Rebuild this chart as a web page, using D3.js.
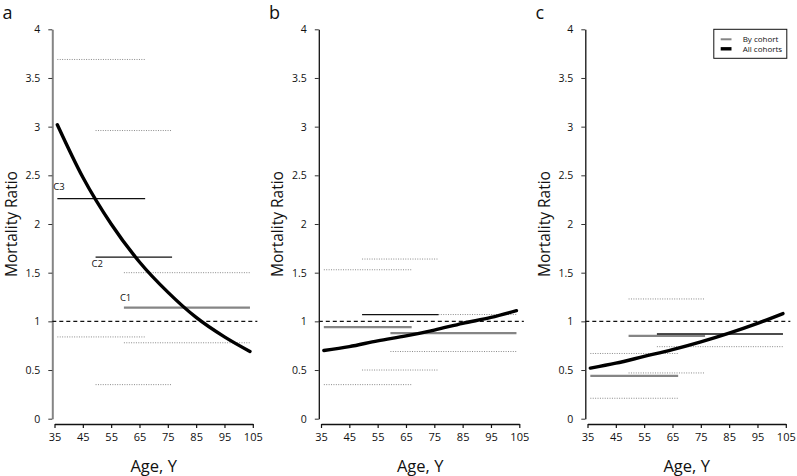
<!DOCTYPE html>
<html>
<head>
<meta charset="utf-8">
<script src="https://cdn.jsdelivr.net/npm/d3@7"></script>
<style>
  html, body { margin: 0; padding: 0; background: #fff; }
  svg { display: block; }
  text { font-family: "Open Sans", "Noto Sans", sans-serif; }
</style>
</head>
<body>
<svg id="chart" width="797" height="476"></svg>
<script>
// ---------------- data ----------------
const panelLabels = ["a", "b", "c"];
const xTicks = [35, 45, 55, 65, 75, 85, 95, 105];
const yTicks = [0, 0.5, 1, 1.5, 2, 2.5, 3, 3.5, 4];
const yTickLabels = ["0", "0.5", "1", "1.5", "2", "2.5", "3", "3.5", "4"];

// cohorts (age spans)
const cohorts = ["C1", "C2", "C3"];
const cohortStart = [59.5, 49.5, 36];
const cohortEnd = [104, 76.5, 67];

// per-cohort estimates and bounds, per panel
const estA = [1.14, 1.66, 2.26];
const loA  = [0.78, 0.35, 0.84];
const hiA  = [1.50, 2.96, 3.69];

const estB = [0.88, 1.07, 0.94];
const loB  = [0.69, 0.50, 0.35];
const hiB  = [1.07, 1.64, 1.53];

const estC = [0.87, 0.85, 0.44];
const loC  = [0.74, 0.47, 0.21];
const hiC  = [null, 1.23, 0.67];

// all-cohorts fitted curve (read at these ages)
const curveAges = [36, 45, 55, 65, 75, 85, 95, 104];
const curveA = [3.02, 2.48, 2.00, 1.61, 1.30, 1.04, 0.84, 0.69];
const curveB = [0.70, 0.74, 0.80, 0.85, 0.91, 0.98, 1.04, 1.11];
const curveC = [0.52, 0.57, 0.64, 0.71, 0.79, 0.88, 0.98, 1.08];

const referenceValue = 1;
const legendLabels = ["By cohort", "All cohorts"];

// ---------------- styling (separate from data) ----------------
const darkEstimate = [
  [false, true, true],
  [false, true, false],
  [true, false, false]
];
const GRAY = "#858585";
const DOT = "#8a8a8a";

const panels = [
  { label: panelLabels[0], est: estA, lo: loA, hi: hiA, curve: curveA, cohortText: true, grayAxis: true },
  { label: panelLabels[1], est: estB, lo: loB, hi: hiB, curve: curveB, cohortText: false, grayAxis: false },
  { label: panelLabels[2], est: estC, lo: loC, hi: hiC, curve: curveC, cohortText: false, grayAxis: false }
];

const svg = d3.select("#chart");
const panelW = 266.5;
const y = d3.scaleLinear().domain([0, 4]).range([418.7, 29.3]);

panels.forEach((p, i) => {
  const off = i * panelW;
  const x = d3.scaleLinear().domain([35, 105]).range([off + 54.5, off + 252.8]);
  const g = svg.append("g");
  const axisX = off + 52.3;

  // panel letter
  g.append("text").attr("x", off + 2.5).attr("y", 19)
    .attr("font-size", 18).attr("fill", "#111").text(p.label);

  // y axis
  const yAxis = d3.axisLeft(y).tickValues(yTicks)
    .tickFormat((d, k) => yTickLabels[k]).tickSize(4).tickSizeOuter(0).tickPadding(8);
  const ya = g.append("g").attr("transform", `translate(${axisX},0)`).call(yAxis);
  ya.select(".domain").attr("stroke", p.grayAxis ? GRAY : "#111").attr("stroke-width", p.grayAxis ? 2 : 1.3);
  ya.selectAll(".tick line").attr("stroke", "#333");
  ya.selectAll(".tick text").attr("font-size", 10.5).attr("fill", "#111")
    .attr("font-family", "'Open Sans', sans-serif");

  // x axis
  const xAxis = d3.axisBottom(x).tickValues(xTicks).tickSize(4).tickSizeOuter(0).tickPadding(5);
  const xa = g.append("g").attr("transform", `translate(0,424)`).call(xAxis);
  xa.select(".domain").attr("stroke", "#111").attr("stroke-width", 1.3);
  xa.selectAll(".tick line").attr("stroke", "#111").attr("stroke-width", 1.2);
  xa.selectAll(".tick text").attr("font-size", 11).attr("fill", "#111")
    .attr("font-family", "'Open Sans', sans-serif");

  // axis titles
  g.append("text")
    .attr("transform", `translate(${off + 16.5},224) rotate(-90)`)
    .attr("text-anchor", "middle").attr("font-size", 15.5).attr("fill", "#111")
    .text("Mortality Ratio");
  g.append("text")
    .attr("x", (x(35) + x(105)) / 2).attr("y", 472)
    .attr("text-anchor", "middle").attr("font-size", 16.5).attr("fill", "#111")
    .text("Age, Y");

  // dotted bounds
  cohorts.forEach((c, k) => {
    [p.lo[k], p.hi[k]].forEach(v => {
      if (v == null) return;
      g.append("line")
        .attr("x1", x(cohortStart[k])).attr("x2", x(cohortEnd[k]))
        .attr("y1", y(v)).attr("y2", y(v))
        .attr("stroke", DOT).attr("stroke-width", 1)
        .attr("stroke-dasharray", "1,1.4");
    });
  });

  // reference dashed line
  g.append("line")
    .attr("x1", axisX).attr("x2", x(106.6))
    .attr("y1", y(referenceValue)).attr("y2", y(referenceValue))
    .attr("stroke", "#111").attr("stroke-width", 1.2)
    .attr("stroke-dasharray", "4,3");

  // cohort estimates (gray first, then dark)
  const order = [0, 1, 2].sort((a, b) => (darkEstimate[i][a] ? 1 : 0) - (darkEstimate[i][b] ? 1 : 0));
  order.forEach(k => {
    const dark = darkEstimate[i][k];
    g.append("line")
      .attr("x1", x(cohortStart[k])).attr("x2", x(cohortEnd[k]))
      .attr("y1", y(p.est[k])).attr("y2", y(p.est[k]))
      .attr("stroke", dark ? "#111" : GRAY)
      .attr("stroke-width", dark ? 1.3 : 2.2);
  });

  // cohort labels (panel a only)
  if (p.cohortText) {
    const dy = [-7, 10, -9];
    cohorts.forEach((c, k) => {
      g.append("text")
        .attr("x", x(cohortStart[k]) - 4)
        .attr("y", y(p.est[k]) + dy[k])
        .attr("font-size", 9.5).attr("fill", "#111")
        .text(c);
    });
  }

  // all-cohorts curve
  const line = d3.line()
    .x((d, k) => x(curveAges[k]))
    .y(d => y(d))
    .curve(d3.curveMonotoneX);
  g.append("path").datum(p.curve)
    .attr("d", line).attr("fill", "none")
    .attr("stroke", "#000").attr("stroke-width", 3.4)
    .attr("stroke-linecap", "round");

  // legend in panel c
  if (i === 2) {
    const lg = g.append("g");
    lg.append("rect").attr("x", 713.8).attr("y", 29.3).attr("width", 73).attr("height", 29)
      .attr("fill", "#fff").attr("stroke", "#111").attr("stroke-width", 1);
    lg.append("line").attr("x1", 720.7).attr("x2", 731.5).attr("y1", 39.3).attr("y2", 39.3)
      .attr("stroke", GRAY).attr("stroke-width", 2);
    lg.append("line").attr("x1", 720.7).attr("x2", 731.5).attr("y1", 48.8).attr("y2", 48.8)
      .attr("stroke", "#000").attr("stroke-width", 3.4);
    legendLabels.forEach((t, k) => {
      lg.append("text").attr("x", 742.7).attr("y", 39.3 + k * 9.5 + 2.8)
        .attr("font-size", 8).attr("fill", "#111").text(t);
    });
  }
});
</script>
</body>
</html>
